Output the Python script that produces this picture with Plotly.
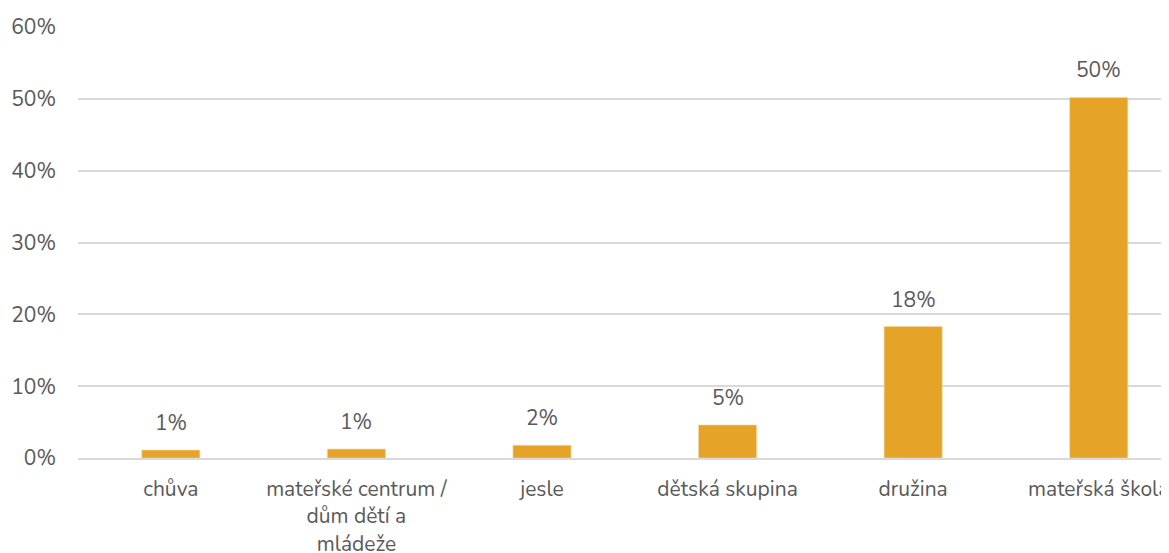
import plotly.graph_objects as go

categories = ["chůva", "mateřské centrum /<br>dům dětí a<br>mládeže", "jesle",
              "dětská skupina", "družina", "mateřská škola"]
values = [1.1, 1.25, 1.77, 4.6, 18.3, 50.2]
labels = ["1%", "1%", "2%", "5%", "18%", "50%"]
tick_vals = [0, 10, 20, 30, 40, 50, 60]
tick_text = ["0%", "10%", "20%", "30%", "40%", "50%", "60%"]

FONT = "Nunito, Lato, sans-serif"
GRAY = "#595959"

fig = go.Figure()
fig.add_trace(go.Bar(
    x=categories, y=values,
    marker=dict(color="#E5A427", line=dict(color="#F3D9A6", width=0.6)),
    hoverinfo="skip",
))
for c, v, t in zip(categories, values, labels):
    fig.add_annotation(x=c, y=v, text=t, showarrow=False, yanchor="bottom",
                       yshift=11, font=dict(family=FONT, size=21, color=GRAY))

fig.update_layout(
    width=1169, height=553,
    margin=dict(l=70, r=12, t=19, b=103),
    paper_bgcolor="white", plot_bgcolor="white",
    bargap=0.687, showlegend=False,
    font=dict(family=FONT, size=21, color=GRAY),
)
fig.update_xaxes(
    type="category", range=[-0.5, 5.357], automargin=False,
    showline=True, linecolor="#D9D9D9", linewidth=1.5,
    showgrid=False, ticks="", ticklabelstandoff=11,
    tickfont=dict(family=FONT, size=21, color=GRAY),
)
fig.update_yaxes(
    range=[0, 60], tickvals=tick_vals, ticktext=tick_text, automargin=False,
    showgrid=True, gridcolor="#D9D9D9", gridwidth=1.5,
    zeroline=False, showline=False, ticks="", ticklabelstandoff=21,
    tickfont=dict(family=FONT, size=21, color=GRAY),
)
fig.write_html("out.html")
